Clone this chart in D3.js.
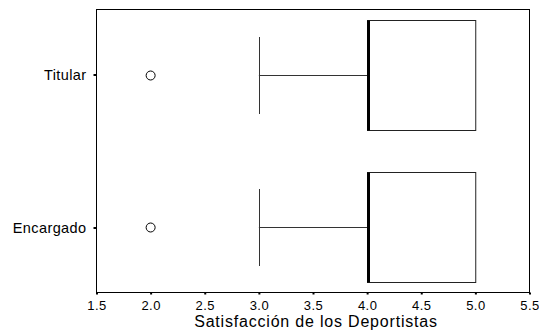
<!DOCTYPE html>
<html><head><meta charset="utf-8">
<script src="https://cdn.jsdelivr.net/npm/d3@7"></script>
<style>body{margin:0;background:#fff}text{font-family:"Liberation Sans",Arial,sans-serif;fill:#000}</style>
</head><body><svg id="c" width="539" height="330"></svg>
<script>
const categories = ["Titular", "Encargado"];
const whiskerLow = [3.0, 3.0];
const q1 = [4.0, 4.0];
const median = [4.0, 4.0];
const q3 = [5.0, 5.0];
const whiskerHigh = [4.0, 4.0];
const outliers = [[2.0], [2.0]];
const xTicks = [1.5, 2.0, 2.5, 3.0, 3.5, 4.0, 4.5, 5.0, 5.5];
const xTitle = "Satisfacción de los Deportistas";

const svg = d3.select("#c");
const L = 96.5, R = 529.5, T = 9.5, B = 292.5;
const x = d3.scaleLinear().domain([1.5, 5.5]).range([L, R]);
const y = d3.scalePoint().domain(categories).range([T, B]).padding(0.425);
const boxH = 110, whH = 77;

// frame
svg.append("rect").attr("x", L).attr("y", T).attr("width", R - L).attr("height", B - T)
  .attr("fill", "none").attr("stroke", "#000").attr("stroke-width", 1);

categories.forEach((c, i) => {
  const cy = Math.round(y(c)) + 0.5;
  const g = svg.append("g");
  // whisker
  g.append("line").attr("x1", x(whiskerLow[i])).attr("x2", x(q1[i])).attr("y1", cy).attr("y2", cy)
    .attr("stroke", "#333").attr("stroke-width", 1);
  g.append("line").attr("x1", Math.round(x(whiskerLow[i])) + 0.5).attr("x2", Math.round(x(whiskerLow[i])) + 0.5)
    .attr("y1", cy - whH / 2).attr("y2", cy + whH / 2).attr("stroke", "#333").attr("stroke-width", 1);
  // box
  g.append("rect").attr("x", Math.round(x(q1[i])) + 0.5).attr("y", cy - boxH / 2)
    .attr("width", x(q3[i]) - x(q1[i])).attr("height", boxH)
    .attr("fill", "#fff").attr("stroke", "#222").attr("stroke-width", 1);
  // median
  g.append("line").attr("x1", Math.round(x(median[i])) + 1.5).attr("x2", Math.round(x(median[i])) + 1.5)
    .attr("y1", cy - boxH / 2).attr("y2", cy + boxH / 2).attr("stroke", "#000").attr("stroke-width", 3);
  // outliers
  outliers[i].forEach(v => {
    g.append("circle").attr("cx", x(v)).attr("cy", cy).attr("r", 4.5)
      .attr("fill", "#fff").attr("stroke", "#000").attr("stroke-width", 1);
  });
});

// x axis
const xa = svg.append("g").attr("transform", `translate(0,${B})`)
  .call(d3.axisBottom(x).tickValues(xTicks).tickFormat(d3.format(".1f")).tickSize(2).tickPadding(6));
xa.select(".domain").remove();
xa.selectAll(".tick line").attr("stroke", "#000").attr("stroke-width", 2);
xa.selectAll(".tick text").attr("font-size", 13).attr("letter-spacing", 0.4).attr("fill", "#222");

// y axis
const ya = svg.append("g").attr("transform", `translate(${L},0)`)
  .call(d3.axisLeft(y).tickSize(3).tickPadding(7));
ya.select(".domain").remove();
ya.selectAll(".tick line").attr("stroke", "#000").attr("stroke-width", 2);
ya.selectAll(".tick text").attr("font-size", 14.5).attr("letter-spacing", 0.4).attr("fill", "#222");

svg.append("text").attr("x", (L + R) / 2 + 3).attr("y", 327).attr("text-anchor", "middle")
  .attr("font-size", 16).attr("letter-spacing", 0.8).attr("fill", "#222").text(xTitle);
</script></body></html>
